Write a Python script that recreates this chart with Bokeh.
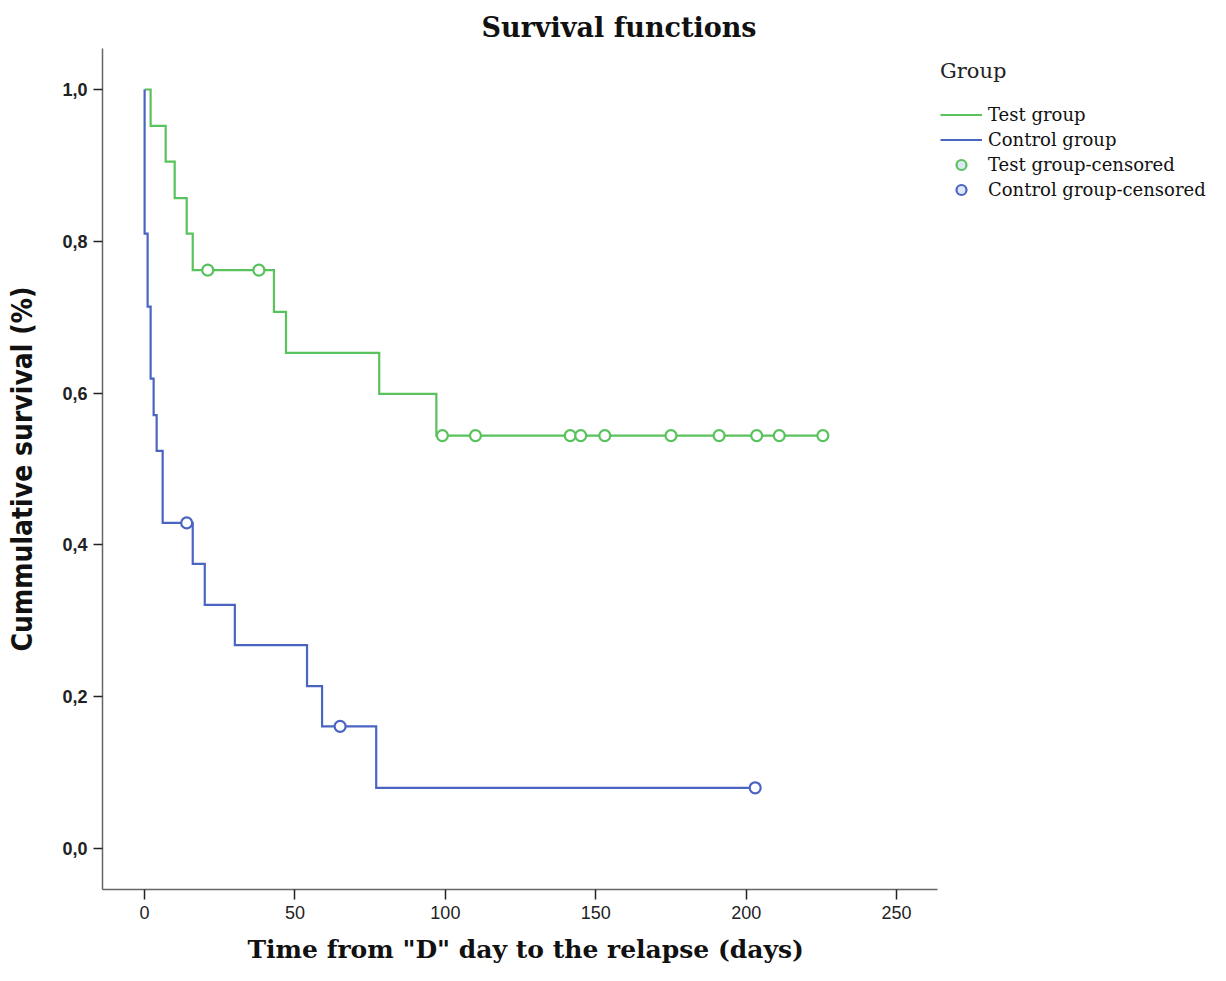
from bokeh.plotting import figure
from bokeh.models import (Range1d, FixedTicker, CustomJSTickFormatter, Legend,
                          LegendItem, Title)
from bokeh.embed import file_html
from bokeh.resources import INLINE

# ---------------- data ----------------
test_times = [0, 2, 7, 10, 14, 16, 43, 47, 78, 97]
test_surv = [1.0, 0.952, 0.905, 0.857, 0.810, 0.762, 0.707, 0.653, 0.599, 0.544]
test_cens_t = [21, 38, 99, 110, 141.5, 145, 153, 175, 191, 203.5, 211, 225.5]
test_cens_s = [0.762, 0.762, 0.544, 0.544, 0.544, 0.544, 0.544, 0.544, 0.544,
               0.544, 0.544, 0.544]

ctrl_times = [0, 0, 1, 2, 3, 4, 6, 16, 20, 30, 54, 59, 77]
ctrl_surv = [1.0, 0.810, 0.714, 0.619, 0.571, 0.524, 0.429, 0.375, 0.321,
             0.268, 0.214, 0.161, 0.080]
ctrl_cens_t = [14, 65, 203]
ctrl_cens_s = [0.429, 0.161, 0.080]

x_ticks = [0, 50, 100, 150, 200, 250]
y_ticks = [0.0, 0.2, 0.4, 0.6, 0.8, 1.0]
x_axis_extent = (-14, 263.5)

GREEN = "#58c25c"
BLUE = "#4a64c2"


def step_xy(times, surv, end_t):
    return list(times) + [end_t], list(surv) + [surv[-1]]


tx, ty = step_xy(test_times, test_surv, max(test_cens_t))
cx, cy = step_xy(ctrl_times, ctrl_surv, max(ctrl_cens_t))

# the frame also covers the legend area; the x axis line stops at 263.5
p = figure(width=1220, height=981, output_backend="svg", toolbar_location=None,
           x_range=Range1d(-14, 357.7), y_range=Range1d(-0.054, 1.054),
           min_border_left=102, min_border_right=0, min_border_top=48,
           min_border_bottom=92)

p.title.text = "Survival functions"
p.title.text_font = "DejaVu Serif"
p.title.text_font_size = "27px"
p.title.text_font_style = "bold"
p.title.align = "left"
p.title.offset = 379
p.title.standoff = 11
p.title.text_color = "#111111"

# x axis title, placed under the axis (left-aligned over the axis extent)
xlab = Title(text='Time from "D" day to the relapse (days)', align="left",
             offset=145, text_font="DejaVu Serif", text_font_size="25px",
             text_font_style="bold", text_color="#111111", standoff=22)
p.add_layout(xlab, "below")

p.outline_line_color = None
p.xgrid.visible = False
p.ygrid.visible = False

r_test = p.step(tx, ty, mode="after", line_color=GREEN, line_width=2.2,
                line_join="miter")
r_ctrl = p.step(cx, cy, mode="after", line_color=BLUE, line_width=2.2,
                line_join="miter")
p.scatter(test_cens_t, test_cens_s, size=11, line_color=GREEN, line_width=2.2,
          fill_color="white")
p.scatter(ctrl_cens_t, ctrl_cens_s, size=11, line_color=BLUE, line_width=2.2,
          fill_color="white")

# legend-only renderers
nan = float("nan")
r_tc = p.scatter(x=[nan], y=[nan], size=17, line_color=GREEN, line_width=2.2,
                 fill_color="#dde7f7")
r_cc = p.scatter(x=[nan], y=[nan], size=17, line_color=BLUE, line_width=2.2,
                 fill_color="#dde7f7")

legend = Legend(items=[
    LegendItem(label="Test group", renderers=[r_test]),
    LegendItem(label="Control group", renderers=[r_ctrl]),
    LegendItem(label="Test group-censored", renderers=[r_tc]),
    LegendItem(label="Control group-censored", renderers=[r_cc]),
], title="Group", location=(838, 687))
legend.title_text_font = "DejaVu Serif"
legend.title_text_font_size = "21px"
legend.title_text_font_style = "normal"
legend.title_text_color = "#222222"
legend.label_text_font = "DejaVu Serif"
legend.label_text_font_size = "18px"
legend.label_text_color = "#111111"
legend.glyph_width = 42
legend.glyph_height = 25
legend.label_height = 25
legend.spacing = 0
legend.label_standoff = 6
legend.padding = 3
legend.margin = 0
legend.border_line_color = None
legend.background_fill_alpha = 0
legend.title_standoff = 19
p.add_layout(legend)

# axes
for ax in (p.xaxis[0], p.yaxis[0]):
    ax.axis_line_color = "#666666"
    ax.axis_line_width = 1.5
    ax.major_tick_line_color = "#222222"
    ax.major_tick_line_width = 1.5
    ax.minor_tick_line_color = None
    ax.major_tick_in = 0
    ax.major_label_text_font = "Liberation Sans"
    ax.major_label_text_font_size = "18px"
    ax.major_label_text_color = "#222222"

p.xaxis.bounds = x_axis_extent
p.xaxis.ticker = FixedTicker(ticks=x_ticks)
p.xaxis.major_tick_out = 10
p.xaxis.major_label_standoff = 6

p.yaxis.ticker = FixedTicker(ticks=y_ticks)
p.yaxis.formatter = CustomJSTickFormatter(code="return tick.toFixed(1).replace('.', ',');")
p.yaxis.major_tick_out = 9
p.yaxis.major_label_standoff = 6
p.yaxis.major_label_text_font_style = "bold"
p.yaxis.axis_label = "Cummulative survival (%)"
p.yaxis.axis_label_text_font = "'DejaVu Sans Condensed', 'Liberation Sans Narrow', 'Liberation Sans'"
p.yaxis.axis_label_text_font_size = "28px"
p.yaxis.axis_label_text_font_style = "bold"
p.yaxis.axis_label_text_color = "#111111"
p.yaxis.axis_label_standoff = 20

open("out.html", "w").write(file_html(p, INLINE))
